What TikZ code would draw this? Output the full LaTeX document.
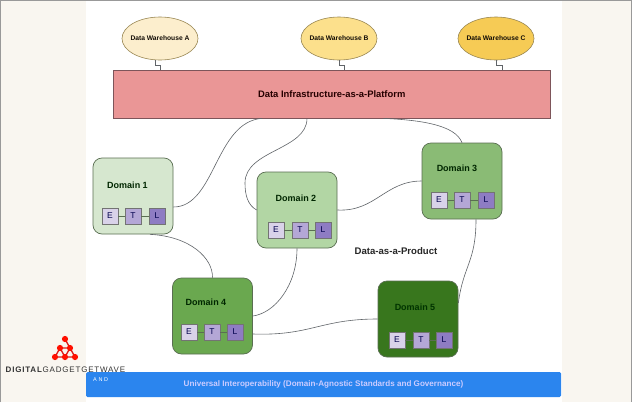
\documentclass[tikz,border=0pt]{standalone}
\usepackage{fontspec}
\setmainfont{Liberation Sans}
\usetikzlibrary{shapes.geometric}
\definecolor{cream}{HTML}{F9F6F0}
\definecolor{edgeg}{HTML}{5A6E52}
\definecolor{wire}{HTML}{606468}
\tikzset{
  wh/.style={ellipse,draw=black!60!yellow!60!brown,line width=.6pt,minimum width=76pt,minimum height=43pt,inner ysep=0pt,inner xsep=-8pt,font=\bfseries\fontsize{6.7}{8}\selectfont,text=black!90!brown},
  dombox/.style={draw=edgeg,line width=.7pt,rounded corners=9pt,minimum width=80pt,minimum height=76pt,inner sep=0pt},
  domlabel/.style={font=\bfseries\fontsize{9}{11}\selectfont,inner sep=0pt,text=black!85!green},
  etlbox/.style={draw=black!55,line width=.5pt,minimum width=16pt,minimum height=16pt,inner sep=0pt,font=\fontsize{8.5}{10}\selectfont,text=black!70!blue},
  link/.style={draw=wire,line width=.6pt},
  stub/.style={draw=wire,line width=.5pt}
}
\newcommand{\etlrow}[5]{%
  \node[etlbox,fill={rgb,255:red,217;green,210;blue,233}] (#1e) at (#2+8,#5+8) {E};
  \node[etlbox,fill={rgb,255:red,180;green,167;blue,214}] (#1t) at (#3+8,#5+8) {T};
  \node[etlbox,fill={rgb,255:red,142;green,124;blue,195}] (#1l) at (#4+8,#5+8) {L};
  \draw[draw=edgeg,line width=.6pt] (#1e) -- (#1t);
  \draw[draw=edgeg,line width=.6pt] (#1t) -- (#1l);
}
\begin{document}
\begin{tikzpicture}[x=1pt,y=-1pt]
\useasboundingbox (0,0) rectangle (632,402);
\fill[white] (0,0) rectangle (632,402);
\fill[cream] (0,0) rectangle (86,402);
\fill[cream] (562,0) rectangle (632,402);
\draw[black!40,line width=1pt] (0.5,402) -- (0.5,0.5) -- (631.5,0.5) -- (631.5,402);

% warehouses
\node[wh,fill={rgb,255:red,252;green,238;blue,205}] (wa) at (160,38.5) {Data Warehouse A};
\node[wh,fill={rgb,255:red,252;green,224;blue,140}] (wb) at (339,38.5) {Data Warehouse B};
\node[wh,fill={rgb,255:red,246;green,203;blue,85}] (wc) at (496,38.5) {Data Warehouse C};

% platform
\node[draw={rgb,255:red,125;green,85;blue,90},fill={rgb,255:red,234;green,150;blue,150},line width=.7pt,minimum width=437.5pt,minimum height=48pt,inner sep=0pt,font=\bfseries\fontsize{9.4}{11}\selectfont,text=black!85!red] (plat) at (331.75,94) {Data Infrastructure-as-a-Platform};

\draw[stub] ([xshift=-5pt]wa.south) -- ++(0,5) -- ++(5,0) -- (wa.south |- plat.north);
\draw[stub] (wb.south) -- ++(0,5) -- ++(5,0) -- ++(0,5);
\draw[stub] (wc.south) -- ++(0,5) -- ++(6,0) -- ++(0,5);

% domains
\node[dombox,fill={rgb,255:red,214;green,231;blue,207}] (d1) at (133,196) {};
\node[dombox,fill={rgb,255:red,178;green,214;blue,164}] (d2) at (297,210) {};
\node[dombox,fill={rgb,255:red,138;green,187;blue,117}] (d3) at (462,181) {};
\node[dombox,fill={rgb,255:red,106;green,168;blue,79}] (d4) at (212.5,316) {};
\node[dombox,fill={rgb,255:red,56;green,118;blue,29}] (d5) at (418,319) {};

\node[domlabel] (l1) at (127.5,185) {Domain 1};
\node[domlabel] (l2) at (296,198) {Domain 2};
\node[domlabel] (l3) at (457,168) {Domain 3};
\node[domlabel] (l4) at (206,302) {Domain 4};
\node[domlabel,text=black!80!green] (l5) at (415,307) {Domain 5};

\etlrow{a}{102}{125}{149}{208}
\etlrow{b}{268}{292}{315}{222}
\etlrow{c}{431}{454}{478}{192}
\etlrow{f}{181}{204}{227}{324}
\etlrow{g}{389}{413}{436}{332}

% connectors
\draw[link] ([yshift=-11pt]d1.east) .. controls +(42,0) and (215,122) .. ([xshift=-69.75pt]plat.south);
\draw[link] (d2.west) .. controls +(-9,-5) and (245,195) .. (245,183) .. controls (245,150) and (307,150) .. ([xshift=-24.75pt]plat.south);
\draw[link] (d3.north) .. controls +(-7,-18) and (420,120) .. ([xshift=51.25pt]plat.south);
\draw[link] (d2.east) .. controls +(38,2) and (385,181) .. (d3.west);
\draw[link] ([xshift=17pt]d1.south) .. controls +(40,2) and (213,258) .. (d4.north);
\draw[link] (d2.south) .. controls +(0,37) and (275,313) .. (d4.east);
\draw[link] ([yshift=-18pt]d4.east) .. controls +(58,2) and (320,319) .. (d5.west);
\draw[link] ([yshift=16pt]d5.east) .. controls +(5,-38) and (476,262) .. ([xshift=14pt]d3.south);

\node[font=\bfseries\fontsize{9.6}{11}\selectfont,inner sep=0pt,text=black!85] (dp) at (396,251.5) {Data-as-a-Product};

% bottom bar
\node[fill={rgb,255:red,43;green,133;blue,238},rounded corners=1.5pt,minimum width=475pt,minimum height=25pt,inner sep=0pt,font=\bfseries\fontsize{8.1}{10}\selectfont,text=white!80!blue] (bar) at (323.5,384.5) {Universal Interoperability (Domain-Agnostic Standards and Governance)};

% logo
\foreach \n/\px/\py in {m1/65/339,m2/60/348,m3/70/348,m4/55/357,m5/65/357,m6/75/357}{
  \coordinate (\n) at (\px,\py);
}
\draw[red!85!black!90!white,line width=1.3pt] (m1)--(m3)--(m6) (m2)--(m3) (m2)--(m4) (m2)--(m5)--(m3) (m4)--(m6);
\foreach \n in {m1,m2,m3,m4,m5,m6}{\fill[red!88!orange] (\n) circle (3.1pt);}
\node[inner sep=0pt,anchor=west,font=\fontsize{8}{9}\selectfont\addfontfeatures{LetterSpace=10},text=black!80] (brand) at (5.5,370) {\textbf{DIGITAL}GADGETGETWAVE};
\node[inner sep=0pt,anchor=west,font=\fontsize{5.5}{6}\selectfont\addfontfeatures{LetterSpace=30},text=white] (tag) at (93,380) {AND};
\end{tikzpicture}
\end{document}
